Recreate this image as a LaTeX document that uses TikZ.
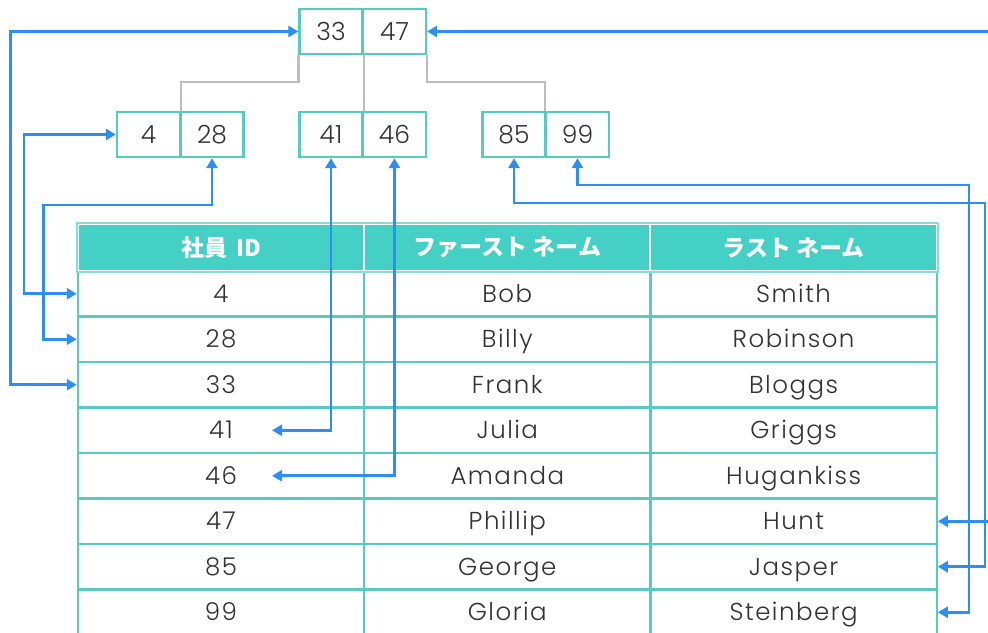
\documentclass[tikz,border=0pt]{standalone}
\usepackage{fontspec}
\setmainfont{Poppins}[UprightFont=* Light]
\newfontfamily\tbl{Poppins}[UprightFont=* Light, LetterSpace=6]
\newfontfamily\cjk{Noto Sans CJK JP}
\usetikzlibrary{arrows.meta,calc}
\definecolor{teal1}{HTML}{56CBC0}
\definecolor{hdr}{HTML}{45D0C5}
\definecolor{arrblue}{HTML}{2E8FF2}
\definecolor{txt}{HTML}{333333}
\definecolor{gry}{HTML}{BDBDBD}
\begin{document}
\begin{tikzpicture}[x=1pt,y=-1pt,
  key/.style={draw=teal1, line width=2.2pt, fill=white, minimum width=63pt, minimum height=45pt, inner sep=0pt, font=\fontsize{25}{25}\selectfont, text=txt},
  cell/.style={draw=teal1, line width=2.2pt, minimum width=286.3pt, minimum height=45.5pt, inner sep=0pt, text height=17pt, text depth=0pt, font=\tbl\fontsize{24.5}{24.5}\selectfont, text=txt},
  head/.style={fill=hdr, draw=white, line width=2pt, minimum width=286.3pt, minimum height=47pt, inner sep=0pt, font=\cjk\bfseries\fontsize{23}{23}\selectfont, text=white},
  link/.style={draw=arrblue, line width=2.7pt, {Triangle[length=10pt,width=11pt]}-{Triangle[length=10pt,width=11pt]}},
  tree/.style={draw=gry, line width=2.2pt}
]
\useasboundingbox (0,0) rectangle (988,632);
\clip (0,0) rectangle (988,632);
\fill[white] (0,0) rectangle (988,632);

% table body
\foreach \id/\fn/\ln [count=\n] in {4/Bob/Smith, 28/Billy/Robinson, 33/Frank/Bloggs, 41/Julia/Griggs, 46/Amanda/Hugankiss, 47/Phillip/Hunt, 85/George/Jasper, 99/Gloria/Steinberg}{
  \pgfmathsetmacro\yy{271+45.5*(\n-0.5)}
  \node[cell] (t\n-a) at (221,\yy) {\id};
  \node[cell] (t\n-b) at (507.3,\yy) {\fn};
  \node[cell] (t\n-c) at (793.6,\yy) {\ln};
}
% header
\node[head] (h-a) at (221,247.5) {社員\, ID};
\node[head] (h-b) at (507.3,247.5) {ファースト ネーム};
\node[head] (h-c) at (793.6,247.5) {ラスト ネーム};
\draw[teal1!70!white, line width=1.6pt] (h-a.north west) rectangle (h-c.south east);

% tree
\node[key] (ra) at (331,31.5) {33};
\node[key] (rb) at (394.5,31.5) {47};
\node[key] (la) at (148.5,134.5) {4};
\node[key] (lb) at (212,134.5) {28};
\node[key] (ma) at (331,134.5) {41};
\node[key] (mb) at (394.5,134.5) {46};
\node[key] (rc) at (514,134.5) {85};
\node[key] (rd) at (577.5,134.5) {99};

\draw[tree] (ra.south west) -- ++(0,27) -| (la.north east);
\draw[tree] (ra.south east) -- (ma.north east);
\draw[tree] (rb.south east) -- ++(0,27) -| (rd.north west);

% links
\coordinate (e41) at ($(t4-a.center)+(51,0)$);
\coordinate (e46) at ($(t5-a.center)+(51,0)$);
\draw[link] (ra.west) -- ++(-288,0) |- (t3-a.west);
\draw[link] (la.west) -- ++(-92,0) |- (t1-a.west);
\draw[link] (lb.south) -- ++(0,47) -| ($(t2-a.west)+(-33,0)$) -- (t2-a.west);
\draw[link] (ma.south) |- (e41);
\draw[link] (mb.south) |- (e46);
\draw[link] (rb.east) -- ++(600,0) |- (t6-c.east);
\draw[link] (rc.south) -- ++(0,45) -| ($(t7-c.east)+(47,0)$) -- (t7-c.east);
\draw[link] (rd.south) -- ++(0,27) -| ($(t8-c.east)+(31,0)$) -- (t8-c.east);
\end{tikzpicture}
\end{document}
